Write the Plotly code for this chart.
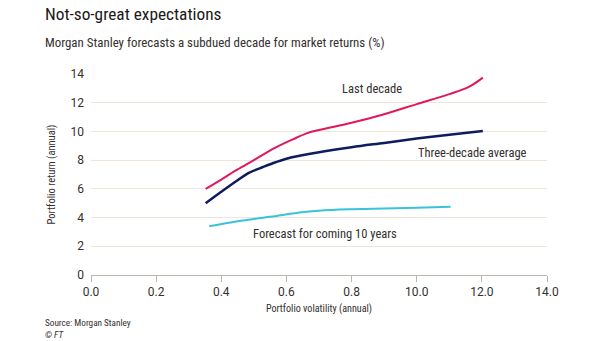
import plotly.graph_objects as go

# Data (x in volatility units as positioned on axis, y = return %)
last_x = [3.52, 4.0, 4.5, 5.0, 5.6, 6.2, 6.6, 7.0, 8.0, 9.0, 10.0, 11.0, 11.6, 12.03]
last_y = [6.0, 6.65, 7.35, 8.0, 8.8, 9.45, 9.85, 10.1, 10.6, 11.2, 11.9, 12.6, 13.1, 13.75]

three_x = [3.52, 4.0, 4.5, 4.83, 5.2, 5.6, 6.0, 6.4, 7.0, 8.0, 9.0, 10.0, 11.0, 12.03]
three_y = [5.0, 5.8, 6.6, 7.1, 7.45, 7.8, 8.1, 8.3, 8.55, 8.9, 9.2, 9.5, 9.77, 10.03]

fc_x = [3.63, 4.5, 5.5, 6.4, 7.0, 8.0, 9.0, 10.0, 11.04]
fc_y = [3.4, 3.75, 4.05, 4.35, 4.48, 4.58, 4.64, 4.69, 4.76]

x_ticks = [0, 2, 4, 6, 8, 10, 12, 14]
x_ticktext = ["0.0", "0.2", "0.4", "0.6", "0.8", "10.0", "12.0", "14.0"]
y_ticks = [0, 2, 4, 6, 8, 10, 12, 14]

FONT = "Liberation Sans Narrow, Roboto Condensed, Roboto"
TICKFONT = "Roboto"
TXT = "#33302e"

fig = go.Figure()
fig.add_trace(go.Scatter(x=last_x, y=last_y, mode="lines", line=dict(color="#e0195c", width=2, shape="spline"), hoverinfo="skip"))
fig.add_trace(go.Scatter(x=three_x, y=three_y, mode="lines", line=dict(color="#0d1c5e", width=2.5, shape="spline"), hoverinfo="skip"))
fig.add_trace(go.Scatter(x=fc_x, y=fc_y, mode="lines", line=dict(color="#38c3d8", width=2, shape="spline"), hoverinfo="skip"))

ann = [
    dict(x=8.63, y=13.0, text="Last decade"),
    dict(x=11.72, y=8.5, text="Three-decade average"),
    dict(x=7.18, y=2.9, text="Forecast for coming 10 years"),
]
for a in ann:
    fig.add_annotation(x=a["x"], y=a["y"], text=a["text"], showarrow=False,
                       font=dict(family=FONT, size=12.5, color=TXT), xanchor="center", yanchor="middle")

# Titles and source
fig.add_annotation(xref="paper", yref="paper", x=-0.105, y=1.0, yshift=60, xanchor="left", yanchor="middle",
                   text="Not-so-great expectations", showarrow=False, font=dict(family=FONT, size=17.3, color="#1a1817"))
fig.add_annotation(xref="paper", yref="paper", x=-0.105, y=1.0, yshift=32, xanchor="left", yanchor="middle",
                   text="Morgan Stanley forecasts a subdued decade for market returns (%)", showarrow=False,
                   font=dict(family=FONT, size=12.9, color=TXT))
fig.add_annotation(xref="paper", yref="paper", x=-0.105, y=0, yshift=-47, xanchor="left", yanchor="middle",
                   text="Source: Morgan Stanley", showarrow=False, font=dict(family=FONT, size=9.2, color=TXT))
fig.add_annotation(xref="paper", yref="paper", x=-0.105, y=0, yshift=-59, xanchor="left", yanchor="middle",
                   text="<i>© FT</i>", showarrow=False, font=dict(family=FONT, size=9.2, color=TXT))

fig.update_layout(
    width=605, height=341,
    margin=dict(l=91, r=58, t=74, b=66),
    paper_bgcolor="white", plot_bgcolor="white",
    showlegend=False,
    font=dict(family=FONT, color=TXT),
    xaxis=dict(range=[0, 14], tickvals=x_ticks, ticktext=x_ticktext, showgrid=False, zeroline=False,
               showline=True, linecolor="#bdb6ae", linewidth=1, ticks="outside", ticklen=6, tickcolor="#bdb6ae",
               tickfont=dict(family=TICKFONT, size=12, color=TXT),
               title=dict(text="Portfolio volatility (annual)", font=dict(family=FONT, size=10.1, color=TXT), standoff=6)),
    yaxis=dict(range=[0, 14], tickvals=y_ticks, showgrid=True, gridcolor="#eee5dc", gridwidth=1, zeroline=False,
               showline=False, ticks="", ticklabelstandoff=6, tickfont=dict(family=TICKFONT, size=12, color=TXT),
               title=dict(text="Portfolio return (annual)", font=dict(family=FONT, size=10.5, color=TXT), standoff=12)),
)

fig.write_html("out.html")
